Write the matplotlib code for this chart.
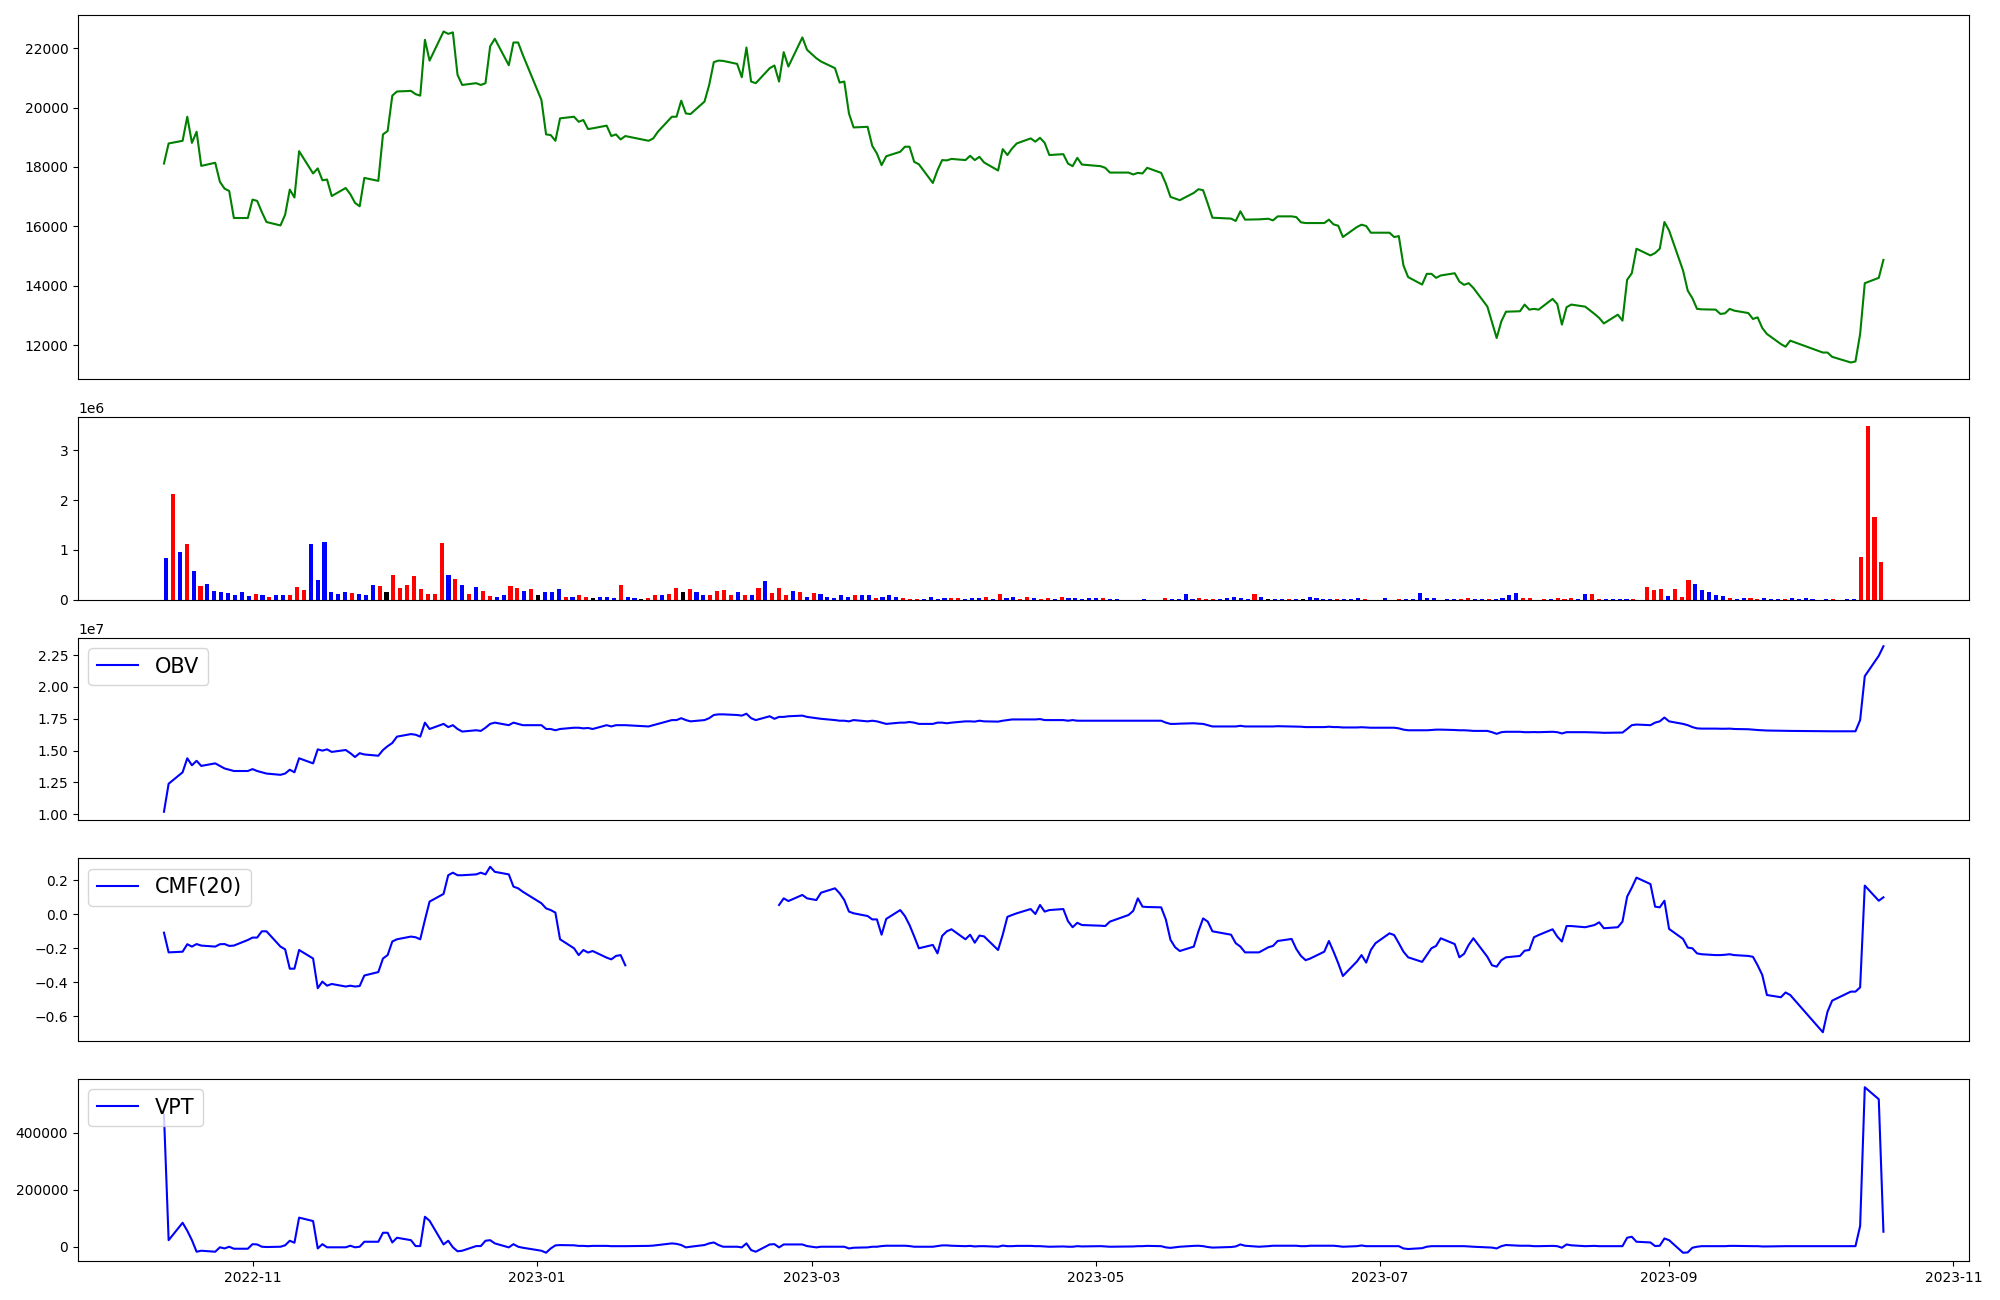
import numpy as np
import pandas as pd
import matplotlib
matplotlib.use("Agg")
import matplotlib.pyplot as plt
from matplotlib.gridspec import GridSpec

# ---------------- data ----------------
start_date = "2022-10-13"
end_date = "2023-10-17"
market_holidays = ["2022-12-30", "2023-01-23", "2023-01-24", "2023-03-01",
                   "2023-05-01", "2023-05-05", "2023-05-29", "2023-06-06",
                   "2023-08-15", "2023-09-28", "2023-09-29", "2023-10-02",
                   "2023-10-03", "2023-10-09"]

close = [
    # Oct 2022
    18115, 18790, 18880, 19690, 18810, 19185, 18035, 18140, 17500, 17270, 17190, 16280, 16280,
    # Nov
    16900, 16855, 16480, 16145, 16030, 16390, 17237, 16970, 18530, 17780, 17950, 17550, 17575,
    17020, 17290, 17080, 16790, 16675, 17630, 17530, 19095, 19210,
    # Dec
    20400, 20540, 20560, 20450, 20400, 22280, 21580, 22560, 22480, 22530, 21100, 20760, 20820,
    20760, 20820, 22060, 22315, 21425, 22190, 22190, 21775,
    # Jan 2023
    20255, 19095, 19073, 18880, 19635, 19690, 19520, 19580, 19275, 19300, 19390, 19040, 19095,
    18925, 19040, 18880, 18960, 19185, 19690, 19690,
    # Feb
    20230, 19800, 19780, 20200, 20760, 21530, 21580, 21570, 21470, 21020, 22020, 20875, 20820,
    21325, 21415, 20875, 21865, 21380, 22360, 21945,
    # Mar
    21660, 21550, 21325, 20840, 20875, 19800, 19330, 19350, 18710, 18450, 18060, 18360, 18510,
    18680, 18680, 18170, 18090, 17460, 17890, 18230, 18220, 18270,
    # Apr
    18230, 18375, 18230, 18340, 18150, 17880, 18600, 18400, 18620, 18790, 18960, 18850, 18980,
    18810, 18400, 18430, 18115, 18025, 18305, 18080,
    # May
    18025, 17970, 17810, 17810, 17745, 17800, 17780, 17970, 17800, 17440, 16990, 16935, 16880,
    17125, 17250, 17215, 16765, 16290, 16260, 16180,
    # Jun
    16505, 16225, 16235, 16255, 16200, 16335, 16335, 16310, 16135, 16110, 16110, 16110, 16225,
    16065, 16020, 15640, 15975, 16055, 16010, 15785, 15785,
    # Jul
    15785, 15640, 15670, 14680, 14290, 14040, 14400, 14400, 14265, 14345, 14420, 14140, 14030,
    14085, 13925, 13300, 12770, 12240, 12800, 13125, 13140,
    # Aug
    13365, 13195, 13220, 13195, 13555, 13385, 12690, 13275, 13365, 13295, 13050, 12915, 12730,
    13025, 12825, 14200, 14420, 15245, 15020, 15100, 15245, 16145,
    # Sep
    15860, 14510, 13835, 13580, 13220, 13205, 13195, 13050, 13070, 13220, 13160, 13080, 12880,
    12935, 12575, 12375, 12035, 11945, 12150,
    # Oct
    11750, 11750, 11605, 11415, 11450, 12375, 14085, 14265, 14870,
]

volume_m = [  # millions of shares, one bar per trading day
    .83, 2.12, .95, 1.11, .57, .28, .32, .18, .16, .14,
    .10, .16, .08, .12, .10, .06, .10, .10, .10, .26,
    .20, 1.11, .40, 1.15, .16, .12, .16, .14, .12, .10,
    .30, .28, .16, .50, .24, .30, .48, .22, .12, .12,
    1.13, .50, .42, .30, .12, .26, .18, .08, .06, .10,
    .28, .24, .18, .22, .10, .16, .16, .22, .06, .06,
    .09, .06, .04, .06, .06, .04, .29, .06, .04, .02,
    .04, .09, .09, .11, .23, .15, .21, .15, .09, .09,
    .17, .19, .09, .15, .09, .09, .23, .37, .13, .23,
    .09, .17, .15, .06, .13, .11, .06, .04, .09, .06,
    .09, .09, .09, .04, .06, .09, .06, .04, .02, .02,
    .02, .06, .02, .04, .04, .04, .02, .04, .04, .06,
    .02, .11, .04, .06, .02, .06, .04, .02, .04, .02,
    .06, .04, .04, .02, .04, .04, .04, .02, .02, 0,
    0, 0, .02, 0, 0, .04, .02, .02, .11, .02,
    .04, .02, .02, .02, .04, .06, .04, .02, .11, .06,
    .02, .02, .02, .02, .02, .02, .06, .04, .02, .02,
    .02, .02, .02, .04, .02, 0, 0, .04, 0, .02,
    .02, .02, .13, .04, .04, 0, .02, .02, .02, .04,
    .02, .02, .02, .02, .04, .09, .13, .04, .04, 0,
    .02, .02, .04, .02, .04, .02, .11, .11, .02, .02,
    .02, .02, .02, .02, 0, .25, .19, .22, .08, .21,
    .06, .40, .32, .20, .16, .10, .08, .04, .02, .04,
    .04, .02, .04, .02, .02, .02, .04, .02, .04, .02,
    0, .02, .02, 0, .02, .02, .85, 3.49, 1.66, .75,
]

volume_color_codes = (
    "brbrbrbbbb" "bbbrbrbbrr" "rbbbbbbrbb" "brkrrrrrrr" "rbrbrbrrbb"
    "rrbrkbbbrb" "rrkbbbrbbk" "rrbrrkrbbr" "rrrbrbrbrr" "rbrbrbbbbb"
    "rbbrbbbrrr" "bbbbrrbbbr" "brbbrrbrrb" "rbbbbbrbbb" "bbbbbrbbbb"
    "rrrbbbbbrb" "kbbrbkbbbb" "rbbbrbbbbr" "bbbbbbbbrr" "bbrbbbbrrb"
    "rbrrrbbrrb" "bbbrbrrrbr" "rrbbbbbrbb" "rrbbbrbbbb" "bbrbbbrrrr"
)

obv_1e7 = [
    1.02, 1.24, 1.33, 1.44, 1.385, 1.42, 1.38, 1.40, 1.38, 1.36, 1.35, 1.34, 1.34,
    1.355, 1.34, 1.33, 1.32, 1.31, 1.32, 1.35, 1.33, 1.44, 1.40, 1.51, 1.50, 1.51, 1.49,
    1.505, 1.48, 1.45, 1.48, 1.47, 1.46, 1.505, 1.535,
    1.56, 1.61, 1.63, 1.625, 1.61, 1.72, 1.67, 1.71, 1.685, 1.70, 1.67, 1.65, 1.66, 1.655,
    1.68, 1.71, 1.72, 1.70, 1.72, 1.71, 1.70,
    1.70, 1.67, 1.67, 1.66, 1.67, 1.68, 1.68, 1.675, 1.678, 1.67, 1.70, 1.69, 1.70, 1.70,
    1.70, 1.69, 1.70, 1.71, 1.74, 1.74,
    1.755, 1.74, 1.73, 1.74, 1.755, 1.78, 1.785, 1.785, 1.78, 1.775, 1.79, 1.755, 1.74,
    1.77, 1.75, 1.765, 1.765, 1.77, 1.775, 1.765,
    1.755, 1.75, 1.74, 1.735, 1.735, 1.73, 1.74, 1.73, 1.735, 1.73, 1.72, 1.71, 1.72, 1.72,
    1.725, 1.72, 1.71, 1.71, 1.72, 1.72, 1.715, 1.72,
    1.73, 1.73, 1.728, 1.735, 1.73, 1.728, 1.735, 1.74, 1.745, 1.745, 1.745, 1.745, 1.748,
    1.74, 1.74, 1.74, 1.735, 1.74, 1.735, 1.735,
    1.735, 1.735, 1.735, 1.735, 1.735, 1.735, 1.735, 1.735, 1.735, 1.72, 1.71, 1.71, 1.712,
    1.715, 1.712, 1.71, 1.70, 1.69, 1.69, 1.69,
    1.695, 1.69, 1.69, 1.69, 1.69, 1.692, 1.69, 1.69, 1.688, 1.685, 1.685, 1.685, 1.688,
    1.685, 1.685, 1.682, 1.682, 1.684, 1.682, 1.68, 1.68,
    1.68, 1.68, 1.675, 1.665, 1.66, 1.66, 1.66, 1.662, 1.665, 1.665, 1.662, 1.66, 1.66,
    1.658, 1.655, 1.655, 1.645, 1.632, 1.645, 1.648, 1.648,
    1.645, 1.645, 1.646, 1.645, 1.648, 1.645, 1.635, 1.645, 1.645, 1.645, 1.643, 1.642,
    1.64, 1.642, 1.642, 1.67, 1.70, 1.705, 1.70, 1.72, 1.73, 1.76,
    1.73, 1.71, 1.70, 1.685, 1.675, 1.673, 1.673, 1.672, 1.672, 1.673, 1.67, 1.668, 1.665,
    1.662, 1.66, 1.658, 1.656, 1.655, 1.655,
    1.652, 1.652, 1.652, 1.652, 1.652, 1.74, 2.085, 2.245, 2.32,
]

nan = float("nan")
cmf20 = [
    -0.108, -0.224, -0.22, -0.176, -0.19, -0.175, -0.184, -0.19, -0.176, -0.175, -0.186,
    -0.184, -0.151,
    -0.137, -0.137, -0.10, -0.10, -0.19, -0.206, -0.32, -0.32, -0.21, -0.26, -0.435, -0.396,
    -0.42, -0.41, -0.425, -0.42, -0.425, -0.422, -0.36, -0.34, -0.26, -0.24,
    -0.16, -0.147, -0.131, -0.135, -0.147, -0.033, 0.075, 0.12, 0.23, 0.245, 0.23, 0.23,
    0.235, 0.245, 0.235, 0.28, 0.25, 0.235, 0.163, 0.153, 0.133,
    0.065, 0.035, 0.025, 0.01, -0.147, -0.2, -0.24, -0.21, -0.225, -0.216, -0.255, -0.265,
    -0.245, -0.24, -0.30, nan, nan, nan, nan, nan,
    nan, nan, nan, nan, nan, nan, nan, nan, nan, nan, nan, nan, nan, nan, nan,
    0.055, 0.094, 0.078, 0.114, 0.094,
    0.084, 0.127, 0.153, 0.124, 0.084, 0.016, 0.006, -0.01, -0.03, -0.03, -0.12, -0.027,
    0.025, -0.01, -0.063, -0.13, -0.2, -0.18, -0.23, -0.127, -0.10, -0.088,
    -0.147, -0.12, -0.167, -0.125, -0.13, -0.21, -0.12, -0.015, -0.004, 0.006, 0.031, 0.002,
    0.055, 0.016, 0.025, 0.031, -0.04, -0.076, -0.05, -0.063,
    -0.067, -0.069, -0.043, -0.004, 0.02, 0.094, 0.045, 0.043, 0.041, -0.03, -0.15, -0.194,
    -0.216, -0.19, -0.10, -0.024, -0.043, -0.10, -0.12, -0.17,
    -0.19, -0.224, -0.224, -0.194, -0.186, -0.157, -0.145, -0.204, -0.245, -0.27, -0.26,
    -0.22, -0.157, -0.22, -0.288, -0.363, -0.278, -0.24, -0.284, -0.21, -0.17,
    -0.112, -0.122, -0.17, -0.22, -0.253, -0.28, -0.24, -0.2, -0.186, -0.141, -0.175,
    -0.253, -0.233, -0.18, -0.141, -0.25, -0.30, -0.308, -0.27, -0.253, -0.245,
    -0.214, -0.21, -0.135, -0.122, -0.088, -0.131, -0.16, -0.069, -0.069, -0.076, -0.063,
    -0.047, -0.082, -0.076, -0.043, 0.104, 0.157, 0.216, 0.178, 0.045, 0.041, 0.08,
    -0.086, -0.145, -0.196, -0.2, -0.23, -0.235, -0.24, -0.24, -0.238, -0.235, -0.24,
    -0.245, -0.25, -0.30, -0.357, -0.475, -0.488, -0.46, -0.475,
    -0.694, -0.573, -0.508, -0.455, -0.455, -0.43, 0.169, 0.08, 0.10,
]

vpt = [
    462000, 23000, 84000, 56000, 23000, -17500, -14000, -17500, -2000, -6000, 0, -7000, -7000,
    9000, 8000, 0, -1000, 0, 5000, 21000, 14000, 102000, 90000, -6000, 9000, -2000, -2000,
    -2000, 3500, -2000, 0, 17500, 17500, 49000, 49000,
    15000, 31500, 23000, 2300, 2300, 105000, 91000, 8000, 21000, -2000, -16000, -14000,
    2300, 2300, 21000, 23000, 11700, -2300, 9000, 0, -3500,
    -14000, -21000, -6000, 4700, 5800, 5000, 3000, 3000, 2000, 3000, 3000, 2000, 2000,
    2000, 2000, 3000, 4000, 6000, 11700, 10000,
    6000, -2300, 0, 6000, 11700, 15000, 6000, 0, 0, -2300, 11700, -11700, -17500, 8000,
    9000, -2300, 8000, 8000, 8000, 2300,
    -2300, 0, 0, 0, 0, -6000, -3500, -2300, 0, 0, 2300, 3500, 3500, 3500, 2300, 0, 0, 0,
    2300, 4700, 4700, 3500,
    2000, 3000, 1000, 2000, 2000, 0, 4000, 2000, 2000, 3000, 3000, 2000, 2000, 1000, 0,
    1000, 0, 0, 2000, 1000,
    2000, 1000, 0, 1000, 1000, 2000, 2000, 3000, 2000, -2300, -4000, -2000, 0, 3000, 3500,
    2000, -1000, -3000, -1000, 1000,
    8000, 3500, 0, 2000, 3500, 3500, 3500, 3500, 2000, 2000, 3500, 3500, 3500, 3500, 2000,
    0, 2000, 4500, 2000, 2000, 2000,
    2000, 2000, 2000, -6000, -8000, -5000, 0, 2000, 2000, 2000, 2000, 2000, 2000, 1000, 0,
    -2000, -3000, -6000, 2000, 6000, 3500,
    3500, 3500, 2000, 2000, 3000, 2000, -3500, 8000, 5000, 2000, 3000, 2000, 2000, 2000,
    2000, 31500, 35000, 17500, 15000, 2300, 3500, 29000,
    23000, -21000, -20000, -3500, 0, 2000, 2000, 2000, 2000, 3000, 3000, 2000, 2000, 2000,
    1000, 1000, 2000, 2000, 2000,
    2000, 2000, 2000, 2000, 2000, 72500, 559000, 517000, 52600,
]

# ---------------- build ----------------
dates = pd.bdate_range(start_date, end_date)
dates = dates[~dates.isin(pd.to_datetime(market_holidays))]
n = len(dates)

color_map = {"r": "red", "b": "blue", "k": "black"}
bar_colors = [color_map[c] for c in volume_color_codes]

fig = plt.figure(figsize=(20, 13), dpi=100)
gs = GridSpec(5, 1, figure=fig, height_ratios=[2, 1, 1, 1, 1],
              left=0.039, right=0.9847, top=0.9885, bottom=0.030, hspace=0.176)
ax1 = fig.add_subplot(gs[0])
ax2 = fig.add_subplot(gs[1])
ax3 = fig.add_subplot(gs[2], sharex=ax1)
ax4 = fig.add_subplot(gs[3], sharex=ax1)
ax5 = fig.add_subplot(gs[4], sharex=ax1)

ax1.plot(dates, close, color="green")

ax2.bar(np.arange(n), np.array(volume_m) * 1e6, width=0.6, color=bar_colors)

ax3.plot(dates, np.array(obv_1e7) * 1e7, color="blue", label="OBV")
ax3.legend(loc="upper left", fontsize=15)

ax4.plot(dates, cmf20, color="blue", label="CMF(20)")
ax4.legend(loc="upper left", fontsize=15)

ax5.plot(dates, vpt, color="blue", label="VPT")
ax5.legend(loc="upper left", fontsize=15)

for ax in (ax1, ax2, ax3, ax4):
    ax.tick_params(axis="x", bottom=False, labelbottom=False)

fig.savefig("out.png", dpi=100)
